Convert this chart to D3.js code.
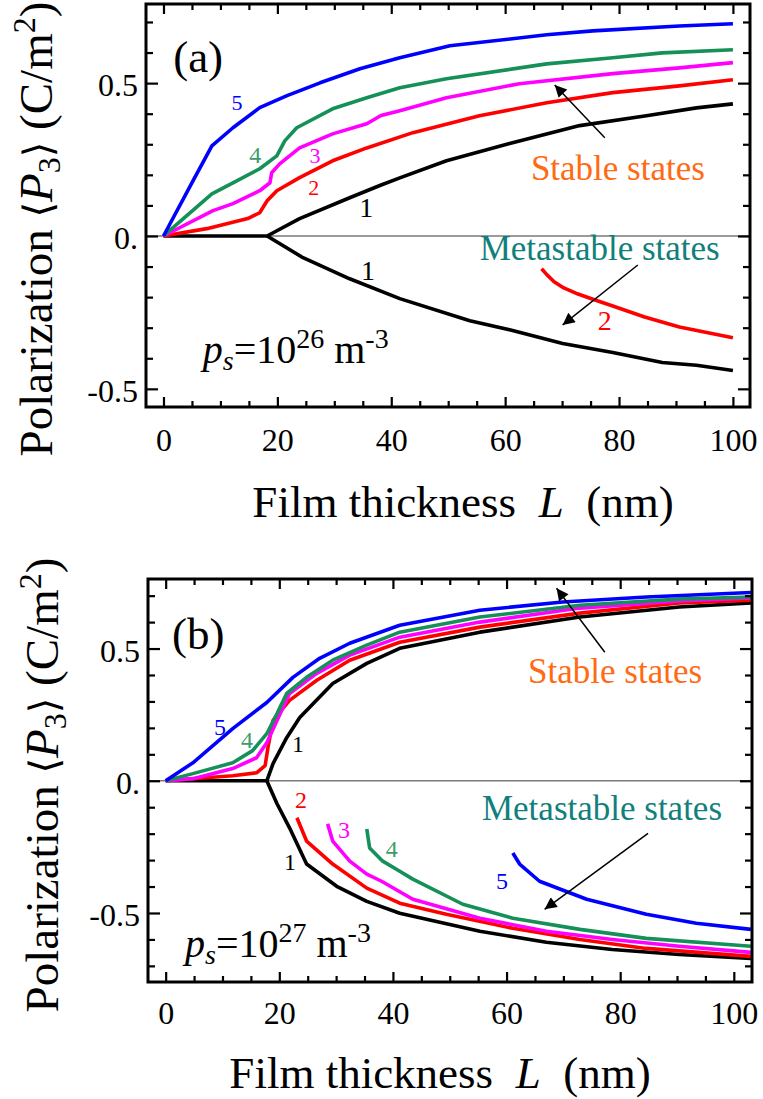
<!DOCTYPE html>
<html><head><meta charset="utf-8">
<script src="https://cdn.jsdelivr.net/npm/d3@7/dist/d3.min.js"></script>
<style>
html,body{margin:0;padding:0;background:#fff;}
svg text{font-family:'Liberation Serif','Times New Roman',serif;}
</style></head>
<body><svg id="c" width="763" height="1099"></svg>
<script>
// ---------- data (film thickness L in nm, polarization <P3> in C/m^2) ----------
const xMajorTicks = [0, 20, 40, 60, 80, 100];
const xMinorTicks = [5,10,15,25,30,35,45,50,55,65,70,75,85,90,95];
const yMajorTicks = [0.5, 0, -0.5];
const yTickLabels = ["0.5", "0.", "-0.5"];
const yMinorTicksA = [0.7,0.6,0.4,0.3,0.2,0.1,-0.1,-0.2,-0.3,-0.4];
const yMinorTicksB = [0.7,0.6,0.4,0.3,0.2,0.1,-0.1,-0.2,-0.3,-0.4,-0.6,-0.7];
const seriesColors = {"1":"#000000","2":"#ff0000","3":"#ff00ff","4":"#159058","5":"#0000ff"};

// panel (a): p_s = 1e26 m^-3
const a5 = [[0,0],[5.2,0.181],[8.5,0.295],[12.2,0.354],[16.9,0.420],[21.7,0.459],[27.5,0.501],[34.5,0.547],[41.5,0.583],[50.3,0.622],[67.3,0.658],[75.4,0.671],[90.6,0.687],[100,0.694]];
const a4 = [[0,0],[8.5,0.138],[12.2,0.174],[16.9,0.220],[19.9,0.262],[21.3,0.311],[23.4,0.354],[29.7,0.416],[35.7,0.452],[41.5,0.485],[49.7,0.514],[67.3,0.563],[78.9,0.583],[87.6,0.599],[100,0.609]];
const a3 = [[0,0],[8.7,0.083],[12.2,0.106],[16.9,0.148],[18.7,0.174],[19.0,0.207],[20.4,0.236],[23.9,0.288],[29.7,0.334],[35.7,0.367],[38.2,0.394],[41.5,0.410],[49.7,0.452],[62.5,0.498],[78.9,0.531],[90.6,0.550],[100,0.567]];
const a2 = [[0,0],[7.6,0.024],[14.8,0.057],[16.9,0.076],[18.2,0.115],[19.9,0.148],[23.9,0.191],[29.7,0.246],[35.7,0.288],[43.8,0.338],[55.5,0.393],[67.3,0.436],[78.9,0.469],[90.6,0.491],[100,0.511]];
const a1 = [[0,0],[18.2,0],[23.9,0.057],[32.7,0.125],[38.0,0.165],[41.5,0.190],[49.7,0.246],[61.3,0.305],[73.1,0.361],[84.8,0.393],[93.6,0.419],[100,0.432]];
const a1meta = [[18.2,0],[24.5,-0.071],[32.7,-0.140],[41.5,-0.205],[53.8,-0.277],[61.3,-0.309],[70.1,-0.352],[78.9,-0.381],[87.6,-0.414],[93.6,-0.423],[100,-0.440]];
const a2meta = [[66.4,-0.107],[67.4,-0.128],[68.6,-0.150],[70.3,-0.170],[72.8,-0.190],[75.4,-0.207],[78.9,-0.229],[84.5,-0.265],[90.6,-0.298],[100,-0.333]];

// panel (b): p_s = 1e27 m^-3
const b5 = [[0,0],[4.8,0.068],[11.8,0.197],[17.8,0.296],[22.4,0.391],[27.1,0.463],[32.4,0.520],[41.2,0.588],[55.3,0.645],[69.9,0.676],[84.6,0.695],[103,0.712]];
const b4 = [[0,0],[4.8,0.027],[11.8,0.068],[15.3,0.114],[17.8,0.178],[19.6,0.254],[21.3,0.330],[24.8,0.391],[29.4,0.456],[35.4,0.513],[41.2,0.562],[55.3,0.619],[72.9,0.664],[90.4,0.687],[103,0.695]];
const b3 = [[0,0],[4.8,0.008],[11.8,0.046],[16.0,0.087],[17.8,0.144],[19.6,0.228],[21.8,0.330],[26.6,0.406],[32.4,0.475],[41.2,0.543],[55.3,0.600],[72.9,0.653],[90.4,0.680],[103,0.691]];
const b2 = [[0,0],[11.8,0.019],[16.0,0.030],[17.5,0.057],[18.0,0.125],[18.9,0.228],[21.8,0.304],[26.6,0.380],[32.4,0.456],[41.2,0.524],[55.3,0.581],[72.9,0.634],[90.4,0.672],[103,0.683]];
const b1 = [[0,0],[17.8,0],[18.9,0.065],[21.3,0.163],[23.6,0.239],[29.4,0.368],[35.4,0.444],[41.2,0.501],[55.3,0.562],[72.9,0.619],[90.4,0.657],[103,0.672]];
const b1meta = [[17.8,0],[19.6,-0.087],[21.8,-0.178],[24.8,-0.315],[30.1,-0.399],[35.4,-0.456],[41.2,-0.501],[55.3,-0.569],[67.0,-0.611],[78.6,-0.638],[90.4,-0.657],[103,-0.672]];
const b2meta = [[23.1,-0.140],[24.8,-0.228],[29.4,-0.315],[35.4,-0.406],[41.2,-0.463],[49.4,-0.505],[61.1,-0.558],[72.9,-0.600],[84.6,-0.634],[103,-0.664]];
const b3meta = [[28.5,-0.163],[29.4,-0.228],[32.4,-0.304],[35.4,-0.353],[38.0,-0.380],[43.5,-0.448],[55.3,-0.520],[67.0,-0.569],[78.6,-0.600],[90.4,-0.626],[103,-0.649]];
const b4meta = [[35.4,-0.182],[35.9,-0.254],[38.2,-0.304],[41.2,-0.342],[43.5,-0.372],[52.3,-0.467],[61.1,-0.520],[72.9,-0.562],[84.6,-0.596],[103,-0.626]];
const b5meta = [[61.1,-0.273],[62.3,-0.315],[65.8,-0.380],[74.1,-0.448],[84.6,-0.505],[93.4,-0.539],[103,-0.562]];

// ---------- drawing ----------
const svg = d3.select("#c");
const FONT = "'Liberation Serif','Times New Roman',serif";
svg.append("defs").append("marker")
  .attr("id","ah").attr("viewBox","0 0 10 10").attr("refX",10).attr("refY",5)
  .attr("markerWidth",16).attr("markerHeight",12).attr("markerUnits","userSpaceOnUse")
  .attr("orient","auto")
  .append("path").attr("d","M0,0 L10,5 L0,10 z").attr("fill","#000");

function txt(sel){ return sel.style("font-family",FONT); }

function panel(cfg){
  const x = d3.scaleLinear().domain(cfg.xDom).range([cfg.left, cfg.right]);
  const y = d3.scaleLinear().domain(cfg.yDom).range([cfg.bottom, cfg.top]);
  const g = svg.append("g");
  const clipId = "clip"+cfg.name;
  g.append("clipPath").attr("id",clipId).append("rect")
    .attr("x",cfg.left).attr("y",cfg.top).attr("width",cfg.right-cfg.left).attr("height",cfg.bottom-cfg.top);

  // zero line
  g.append("line").attr("x1",cfg.left).attr("x2",cfg.right).attr("y1",y(0)).attr("y2",y(0))
    .attr("stroke","#7a7a7a").attr("stroke-width",1.5);

  // curves
  const line = d3.line().x(d=>x(d[0])).y(d=>y(d[1]));
  const cg = g.append("g").attr("clip-path",`url(#${clipId})`);
  cfg.curves.forEach(c=>{
    cg.append("path").attr("d",line(c.data)).attr("fill","none")
      .attr("stroke",seriesColors[c.id]).attr("stroke-width",3.6)
      .attr("stroke-linejoin","round").attr("stroke-linecap","butt");
  });

  // axes (ticks inside, on all four sides)
  function axisStyle(sel){
    sel.attr("font-family",null).attr("font-size",null);
    sel.select(".domain").remove();
    sel.selectAll("line").attr("stroke","#000").attr("stroke-width",2.2);
    sel.selectAll("text").style("font-family",FONT).style("font-size","32px").attr("fill","#000");
  }
  g.append("g").attr("transform",`translate(0,${cfg.bottom})`)
    .call(d3.axisBottom(x).tickValues(xMajorTicks).tickSize(-10).tickPadding(cfg.xPad).tickFormat(d3.format("d")))
    .call(axisStyle);
  g.append("g").attr("transform",`translate(0,${cfg.bottom})`)
    .call(d3.axisBottom(x).tickValues(xMinorTicks).tickSize(-6).tickFormat(""))
    .call(axisStyle);
  g.append("g").attr("transform",`translate(0,${cfg.top})`)
    .call(d3.axisTop(x).tickValues(xMajorTicks).tickSize(-10).tickFormat(""))
    .call(axisStyle);
  g.append("g").attr("transform",`translate(0,${cfg.top})`)
    .call(d3.axisTop(x).tickValues(xMinorTicks).tickSize(-6).tickFormat(""))
    .call(axisStyle);
  const yl = g.append("g").attr("transform",`translate(${cfg.left},0)`)
    .call(d3.axisLeft(y).tickValues(yMajorTicks).tickSize(-12).tickPadding(8)
      .tickFormat((d,i)=>yTickLabels[i]))
    .call(axisStyle);
  yl.selectAll("text").attr("dy","0.4em");
  g.append("g").attr("transform",`translate(${cfg.left},0)`)
    .call(d3.axisLeft(y).tickValues(cfg.yMinor).tickSize(-7).tickFormat(""))
    .call(axisStyle);
  g.append("g").attr("transform",`translate(${cfg.right},0)`)
    .call(d3.axisRight(y).tickValues(yMajorTicks).tickSize(-12).tickFormat(""))
    .call(axisStyle);
  g.append("g").attr("transform",`translate(${cfg.right},0)`)
    .call(d3.axisRight(y).tickValues(cfg.yMinor).tickSize(-7).tickFormat(""))
    .call(axisStyle);

  // frame
  g.append("rect").attr("x",cfg.left).attr("y",cfg.top)
    .attr("width",cfg.right-cfg.left).attr("height",cfg.bottom-cfg.top)
    .attr("fill","none").attr("stroke","#000").attr("stroke-width",3);

  // panel letter
  txt(g.append("text")).attr("x",x(cfg.letter[0])).attr("y",y(cfg.letter[1]))
    .attr("font-size",45).text(cfg.letter[2]);

  // curve number labels
  cfg.nums.forEach(n=>{
    txt(g.append("text")).attr("x",x(n[0])).attr("y",y(n[1])).attr("text-anchor","middle")
      .attr("font-size",n[3]).attr("fill",n[4]||seriesColors[n[2]]).text(n[2]);
  });

  // state annotations
  txt(g.append("text")).attr("x",x(cfg.stable[0])).attr("y",y(cfg.stable[1])).attr("text-anchor","middle")
    .attr("font-size",35).attr("fill","#ff6a13").text("Stable states");
  txt(g.append("text")).attr("x",x(cfg.meta[0])).attr("y",y(cfg.meta[1])).attr("text-anchor","middle")
    .attr("font-size",35).attr("fill","#11807c").text("Metastable states");
  cfg.arrows.forEach(a=>{
    g.append("line").attr("x1",x(a[0])).attr("y1",y(a[1])).attr("x2",x(a[2])).attr("y2",y(a[3]))
      .attr("stroke","#000").attr("stroke-width",1.5).attr("marker-end","url(#ah)");
  });

  // p_s label
  const ps = txt(g.append("text")).attr("x",x(cfg.ps[0])).attr("y",y(cfg.ps[1])).attr("font-size",40);
  ps.append("tspan").attr("font-style","italic").text("p");
  ps.append("tspan").attr("font-style","italic").attr("font-size",28).attr("dy",7).text("s");
  ps.append("tspan").attr("dy",-7).text("=10");
  ps.append("tspan").attr("font-size",28).attr("dy",-15).text(cfg.ps[2]);
  ps.append("tspan").attr("dy",15).text("\u00a0m");
  ps.append("tspan").attr("font-size",28).attr("dy",-15).text("-3");

  // x axis title
  const xt = txt(g.append("text")).attr("x",cfg.xTitle[0]).attr("y",cfg.xTitle[1])
    .attr("text-anchor","middle").attr("font-size",45).style("white-space","pre");
  xt.append("tspan").text("Film thickness  ");
  xt.append("tspan").attr("font-style","italic").text("L");
  xt.append("tspan").text("  (nm)");

  // y axis title
  const yt = txt(g.append("text")).attr("transform",`translate(${cfg.yTitle[0]},${cfg.yTitle[1]}) rotate(-90)`)
    .attr("text-anchor","middle").attr("font-size",47).style("white-space","pre");
  yt.append("tspan").text("Polarization ");
  yt.append("tspan").style("font-family","'DejaVu Serif',serif").attr("font-size",40).text("\u27e8");
  yt.append("tspan").attr("font-style","italic").text("P");
  yt.append("tspan").attr("font-size",32).attr("dy",8).text("3");
  yt.append("tspan").attr("dy",-8).style("font-family","'DejaVu Serif',serif").attr("font-size",40).text("\u27e9");
  yt.append("tspan").text(" (C/m");
  yt.append("tspan").attr("font-size",32).attr("dy",-17).text("2");
  yt.append("tspan").attr("dy",17).text(")");
}

panel({
  name:"a", left:146, right:750, top:4, bottom:407,
  xDom:[-3.07,103.0], yDom:[-0.5594,0.7588],
  yMinor:yMinorTicksA, xPad:21,
  curves:[{id:"1",data:a1},{id:"1",data:a1meta},{id:"2",data:a2},{id:"2",data:a2meta},
          {id:"3",data:a3},{id:"4",data:a4},{id:"5",data:a5}],
  letter:[1.7,0.536,"(a)"],
  nums:[[12.9,0.412,"5",22],[16.1,0.239,"4",24,"#3c9c6c"],[26.6,0.239,"3",22],[26.4,0.134,"2",22],
        [35.6,0.062,"1",28],[35.9,-0.144,"1",28],[77.5,-0.307,"2",28]],
  stable:[79.8,0.183], meta:[76.6,-0.0785],
  arrows:[[77.5,0.321,68.7,0.494],[83.3,-0.095,70.1,-0.291]],
  ps:[6.9,-0.415,"26"],
  xTitle:[463,517], yTitle:[52,229]
});

panel({
  name:"b", left:148, right:752, top:579, bottom:982,
  xDom:[-3.11,103.2], yDom:[-0.761,0.763],
  yMinor:yMinorTicksB, xPad:19,
  curves:[{id:"1",data:b1meta},{id:"2",data:b2meta},{id:"3",data:b3meta},{id:"4",data:b4meta},{id:"5",data:b5meta},
          {id:"1",data:b1},{id:"2",data:b2},{id:"3",data:b3},{id:"4",data:b4},{id:"5",data:b5}],
  letter:[1.1,0.498,"(b)"],
  nums:[[9.55,0.172,"5",24],[14.3,0.123,"4",24,"#3c9c6c"],[23.3,0.108,"1",24],[23.8,-0.104,"2",24],
        [31.4,-0.217,"3",24],[39.8,-0.289,"4",24,"#3c9c6c"],[21.9,-0.338,"1",24],[59.2,-0.410,"5",24]],
  stable:[79.1,0.369], meta:[76.8,-0.149],
  arrows:[[77.3,0.486,68.8,0.728],[84.9,-0.199,66.7,-0.486]],
  ps:[3.4,-0.667,"27"],
  xTitle:[440,1088], yTitle:[58,785]
});
</script></body></html>
